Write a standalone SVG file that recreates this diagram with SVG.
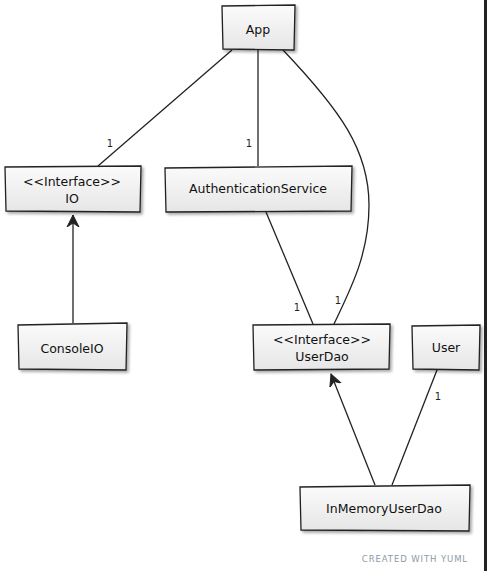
<svg xmlns="http://www.w3.org/2000/svg" width="487" height="571" viewBox="0 0 487 571">
<defs>
<linearGradient id="g" x1="0" y1="0" x2="0" y2="1">
<stop offset="0" stop-color="#fbfbfb"/>
<stop offset="1" stop-color="#e6e6e6"/>
</linearGradient>
<filter id="sh" x="-10%" y="-10%" width="130%" height="140%">
<feGaussianBlur in="SourceAlpha" stdDeviation="1.5"/>
<feOffset dx="2" dy="2" result="b"/>
<feComponentTransfer><feFuncA type="linear" slope="0.35"/></feComponentTransfer>
<feMerge><feMergeNode/><feMergeNode in="SourceGraphic"/></feMerge>
</filter>
<marker id="arr" viewBox="0 0 14 14" refX="12" refY="7" markerWidth="14" markerHeight="14" markerUnits="userSpaceOnUse" orient="auto">
<path d="M0,1 L12,7 L0,13 L4,7 Z" fill="#222" stroke="#222" stroke-width="1"/>
</marker>
</defs>
<style>
.box{fill:url(#g);stroke:#222;stroke-width:1.3;filter:url(#sh)}
.t{font-family:"DejaVu Sans","Liberation Sans",sans-serif;font-size:12.5px;fill:#111;text-anchor:middle}
.e{fill:none;stroke:#222;stroke-width:1.3}
.l{font-family:"DejaVu Sans","Liberation Sans",sans-serif;font-size:10px;fill:#222;text-anchor:middle}
</style>
<rect x="0" y="0" width="487" height="571" fill="#fff"/>
<line x1="485.5" y1="0" x2="485.5" y2="571" stroke="#222" stroke-width="3"/>
<g id="connectors">
<path class="e" d="M232,50 L98,166"/>
<text class="l" x="110" y="147">1</text>
<path class="e" d="M258,50 L258,166"/>
<text class="l" x="249" y="147">1</text>
<path class="e" d="M283,50 C340,110 369,150 369,205 C369,255 350,290 334,324"/>
<text class="l" x="338" y="304">1</text>
<path class="e" d="M266,212 L313,324"/>
<text class="l" x="297" y="311">1</text>
<path class="e" d="M73,323 L73,215" marker-end="url(#arr)"/>
<path class="e" d="M375,485 L331,374" marker-end="url(#arr)"/>
<path class="e" d="M437,370 L392,485"/>
<text class="l" x="438" y="400">1</text>
</g>
<g id="App">
<path class="box" d="M222,6 L295,5 L294,50 L223,49 Z"/>
<text class="t" x="258" y="34">App</text>
</g>
<g id="IO">
<path class="box" d="M5,167 L141,166 L140,212 L6,211 Z"/>
<text class="t" x="72" y="186">&lt;&lt;Interface&gt;&gt;</text>
<text class="t" x="72" y="203">IO</text>
</g>
<g id="AuthenticationService">
<path class="box" d="M165,168 L352,166 L351,211 L166,212 Z"/>
<text class="t" x="258" y="193">AuthenticationService</text>
</g>
<g id="ConsoleIO">
<path class="box" d="M18,325 L127,323 L126,370 L19,369 Z"/>
<text class="t" x="72" y="353">ConsoleIO</text>
</g>
<g id="UserDao">
<path class="box" d="M253,325 L390,324 L389,369 L254,370 Z"/>
<text class="t" x="322" y="344">&lt;&lt;Interface&gt;&gt;</text>
<text class="t" x="322" y="361">UserDao</text>
</g>
<g id="User">
<path class="box" d="M412,326 L480,325 L479,370 L413,369 Z"/>
<text class="t" x="446" y="352">User</text>
</g>
<g id="InMemoryUserDao">
<path class="box" d="M300,487 L470,485 L469,531 L301,530 Z"/>
<text class="t" x="384" y="513">InMemoryUserDao</text>
</g>
<text x="468" y="562" font-family="'DejaVu Sans','Liberation Sans',sans-serif" font-size="8.5px" fill="#8a9aa8" text-anchor="end" letter-spacing="0.9">CREATED WITH YUML</text>
</svg>
